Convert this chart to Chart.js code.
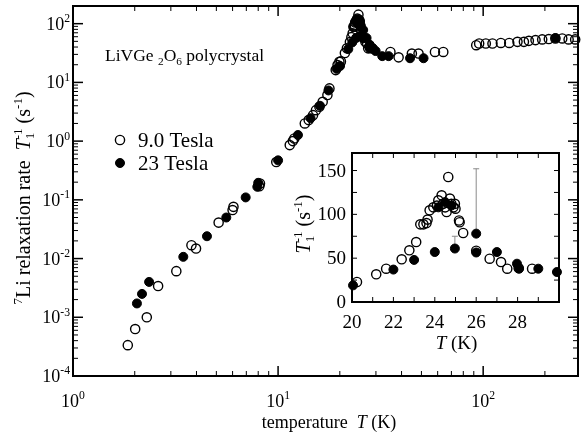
<!DOCTYPE html>
<html>
<head>
<meta charset="utf-8">
<script src="https://cdn.jsdelivr.net/npm/chart.js@4/dist/chart.umd.min.js"></script>
<style>
  html, body { margin: 0; padding: 0; background: #fff; }
  #wrap { position: relative; width: 584px; height: 441px; overflow: hidden; }
  #main { position: absolute; left: 0; top: 0; }
  #inset { position: absolute; left: 280px; top: 140px; }
</style>
</head>
<body>
<div id="wrap">
  <canvas id="main" width="584" height="441"></canvas>
  <canvas id="inset" width="300" height="220"></canvas>
</div>
<script>
// 7Li spin-lattice relaxation rate 1/T1 (s^-1) versus temperature (K)

// 9.0 Tesla (open symbols)
const t9 = [1.85, 2.01, 2.29, 2.60, 3.19, 3.78, 3.98, 5.13, 6.0, 6.06, 8.1, 8.16, 9.8,
  11.4, 11.8, 12.0, 13.5, 14.1, 14.8, 15.3, 15.9, 16.5, 17.4, 17.8, 19.1, 19.5, 19.9,
  20.24, 21.17, 21.65, 22.4, 22.77, 23.1, 23.3, 23.45, 23.6, 23.65, 23.75, 23.93, 24.1,
  24.17, 24.33, 24.4, 24.5, 24.57, 24.65, 24.73, 24.8, 24.9, 24.97, 25.0, 25.17, 25.2,
  25.37, 26.0, 26.65, 27.2, 27.5, 28.05, 28.7,
  35.3, 38.7, 44.9, 48.4, 58.2, 63.9,
  92.5, 95.6, 103, 111, 122, 134, 147, 158, 167, 180, 194, 209, 225, 243, 261, 281];
const r9 = [3.35e-4, 6.3e-4, 1.0e-3, 3.4e-3, 6.1e-3, 0.0169, 0.0148, 0.041, 0.067, 0.076, 0.17, 0.19, 0.44,
  0.855, 1.0, 1.11, 2.0, 2.28, 2.77, 3.37, 3.84, 4.67, 6.1, 7.9, 16.2, 19.7, 22.4,
  22.8, 31.6, 38, 48.7, 59, 68.4, 88.6, 88.6, 90, 94, 104.6, 108, 110,
  116, 121.7, 112, 108, 102.7, 142.6, 118, 112, 108, 112, 106.5, 93, 91,
  78.7, 58.5, 49.4, 45.6, 38, 38.8, 38,
  33, 26.7, 31, 31, 33, 33,
  43, 46, 46, 46, 47, 47, 49, 49, 51, 52.5, 54, 54.7, 56, 56, 54, 54];

// 23 Tesla (filled symbols)
const t23 = [2.05, 2.17, 2.35, 3.45, 4.5, 5.59, 6.95, 7.92, 8.0, 10.0, 12.5, 14.4, 16.0,
  17.6, 19.3, 20.05, 22.0, 23.0, 24.0, 24.17, 24.5, 24.8, 24.97, 26.0, 26.0, 27.0,
  27.97, 28.07, 29.0, 29.9, 32.2, 34.6, 44.0, 51.2, 225];
const r23 = [1.72e-3, 2.5e-3, 4.0e-3, 0.0107, 0.024, 0.050, 0.11, 0.167, 0.195, 0.47, 1.27, 2.46, 4.0,
  7.3, 17, 19, 37, 48, 57, 108, 114, 110, 61, 78, 56.5, 57,
  43.7, 38, 38, 34.2, 28, 28, 25.8, 25.8, 57];

// upper error bars on two 23 T points
const errT = [24.97, 26.0];
const errLo = [61, 78];
const errHi = [75, 152];

// axis ticks
const mainXExp = [0, 1, 2];
const mainYExp = [-4, -3, -2, -1, 0, 1, 2];
const insetXLabels = [20, 22, 24, 26, 28];
const insetYLabels = [0, 50, 100, 150];

const SERIF = '"Liberation Serif", "Times New Roman", Times, serif';
const INK = '#000';

function fnt(px, italic) { return (italic ? 'italic ' : '') + px + 'px ' + SERIF; }

// rich text: segments {t, k:'sup'|'sub'|'it'} or {stack:[sub, sup]}
function segW(ctx, s, size) {
  if (s.stack) {
    ctx.font = fnt(size * 0.65);
    return Math.max(ctx.measureText(s.stack[0]).width, ctx.measureText(s.stack[1]).width);
  }
  const small = s.k === 'sup' || s.k === 'sub';
  ctx.font = fnt(small ? size * 0.65 : size, s.k === 'it');
  return ctx.measureText(s.t).width;
}
function richW(ctx, segs, size) { return segs.reduce((a, s) => a + segW(ctx, s, size), 0); }
function drawRich(ctx, segs, x, y, size, align) {
  const w = richW(ctx, segs, size);
  let cx = align === 'center' ? x - w / 2 : align === 'right' ? x - w : x;
  ctx.textAlign = 'left';
  ctx.textBaseline = 'alphabetic';
  ctx.fillStyle = INK;
  for (const s of segs) {
    const sw = segW(ctx, s, size);
    if (s.stack) {
      ctx.font = fnt(size * 0.65);
      ctx.fillText(s.stack[1], cx, y - size * 0.42);
      ctx.fillText(s.stack[0], cx, y + size * 0.22);
    } else {
      const small = s.k === 'sup' || s.k === 'sub';
      ctx.font = fnt(small ? size * 0.65 : size, s.k === 'it');
      const dy = s.k === 'sup' ? -size * 0.42 : s.k === 'sub' ? size * 0.22 : 0;
      ctx.fillText(s.t, cx, y + dy);
    }
    cx += sw;
  }
}
function pow10(e) { return [{ t: '10' }, { t: String(e), k: 'sup' }]; }

function logTicks(min, max) {
  const out = [];
  for (let e = Math.floor(Math.log10(min)); e <= Math.ceil(Math.log10(max)); e++) {
    for (let m = 1; m < 10; m++) {
      const v = m * Math.pow(10, e);
      if (v >= min * 0.999 && v <= max * 1.001) out.push({ v, major: m === 1 });
    }
  }
  return out;
}

function tickLine(ctx, x1, y1, x2, y2, w) {
  ctx.lineWidth = w;
  ctx.beginPath(); ctx.moveTo(x1, y1); ctx.lineTo(x2, y2); ctx.stroke();
}

function pts(ts, rs, lo, hi) {
  return ts.map((t, i) => ({ x: t, y: rs[i] }))
    .filter(p => lo === undefined || (p.x >= lo && p.x <= hi));
}

const openStyle = {
  showLine: false, pointStyle: 'circle', pointRadius: 4.6, pointBorderWidth: 1.4,
  pointBorderColor: INK, pointBackgroundColor: 'rgba(255,255,255,0)', clip: false
};
const fillStyle = {
  showLine: false, pointStyle: 'circle', pointRadius: 4.5, pointBorderWidth: 1,
  pointBorderColor: INK, pointBackgroundColor: INK, clip: false
};

// frame + inward ticks on all four sides
function frameAndTicks(ctx, area, xs, ys, xt, yt) {
  ctx.save();
  ctx.strokeStyle = INK;
  for (const t of xt) {
    const x = xs.getPixelForValue(t.v);
    const L = t.major ? 10 : 5, w = t.major ? 1.5 : 1;
    tickLine(ctx, x, area.bottom, x, area.bottom - L, w);
    tickLine(ctx, x, area.top, x, area.top + L, w);
  }
  for (const t of yt) {
    const y = ys.getPixelForValue(t.v);
    const L = t.major ? 10 : 5, w = t.major ? 1.5 : 1;
    tickLine(ctx, area.left, y, area.left + L, y, w);
    tickLine(ctx, area.right, y, area.right - L, y, w);
  }
  ctx.lineWidth = 2;
  ctx.strokeRect(area.left, area.top, area.right - area.left, area.bottom - area.top);
  ctx.restore();
}

const mainDeco = {
  id: 'mainDeco',
  beforeDatasetsDraw(chart) {
    const { ctx, chartArea: a, scales: { x, y } } = chart;
    frameAndTicks(ctx, a, x, y, logTicks(x.min, x.max), logTicks(y.min, y.max));
  },
  afterDraw(chart) {
    const { ctx, chartArea: a, scales: { x, y } } = chart;
    ctx.save();
    // tick labels
    for (const e of mainYExp) {
      drawRich(ctx, pow10(e), a.left - 3, y.getPixelForValue(Math.pow(10, e)) + 6, 18, 'right');
    }
    for (const e of mainXExp) {
      drawRich(ctx, pow10(e), x.getPixelForValue(Math.pow(10, e)), 407, 18, 'center');
    }
    // axis titles
    drawRich(ctx, [{ t: 'temperature  ' }, { t: 'T', k: 'it' }, { t: ' (K)' }], 329, 428, 18, 'center');
    ctx.save();
    ctx.translate(30, 198);
    ctx.rotate(-Math.PI / 2);
    drawRich(ctx, [{ t: '7', k: 'sup' }, { t: 'Li relaxation rate  ' }, { t: 'T', k: 'it' },
      { stack: ['1', '-1'] }, { t: ' (s' }, { t: '-1', k: 'sup' }, { t: ')' }], 0, 0, 20, 'center');
    ctx.restore();
    // sample label
    drawRich(ctx, [{ t: 'LiVGe ' }, { t: '2', k: 'sub' }, { t: 'O' }, { t: '6', k: 'sub' }, { t: ' polycrystal' }],
      105, 61, 17.5, 'left');
    // legend
    const ds = chart.data.datasets;
    const rows = [[ds[0], '9.0 Tesla', 140], [ds[1], '23 Tesla', 163]];
    for (const [d, label, cy] of rows) {
      ctx.beginPath();
      ctx.arc(120, cy, d.pointRadius, 0, Math.PI * 2);
      ctx.fillStyle = d.pointBackgroundColor; ctx.fill();
      ctx.lineWidth = d.pointBorderWidth; ctx.strokeStyle = d.pointBorderColor; ctx.stroke();
      drawRich(ctx, [{ t: label }], 138, cy + 7, 21, 'left');
    }
    ctx.restore();
  }
};

const insetDeco = {
  id: 'insetDeco',
  beforeDatasetsDraw(chart) {
    const { ctx, chartArea: a, scales: { x, y } } = chart;
    const xt = [], yt = [];
    for (let v = 20; v <= 30; v++) xt.push({ v, major: v % 2 === 0 });
    for (let v = 0; v <= 170; v += 25) yt.push({ v, major: v % 50 === 0 });
    ctx.save();
    ctx.strokeStyle = INK;
    for (const t of xt) {
      const px = x.getPixelForValue(t.v);
      tickLine(ctx, px, a.bottom, px, a.bottom - 5, 1);
      tickLine(ctx, px, a.top, px, a.top + 5, 1);
    }
    for (const t of yt) {
      const py = y.getPixelForValue(t.v);
      tickLine(ctx, a.left, py, a.left + 5, py, 1);
      tickLine(ctx, a.right, py, a.right - 5, py, 1);
    }
    ctx.lineWidth = 2;
    ctx.strokeRect(a.left, a.top, a.right - a.left, a.bottom - a.top);
    // error bars
    ctx.strokeStyle = '#8a8a8a';
    ctx.lineWidth = 1;
    errT.forEach((t, i) => {
      const px = x.getPixelForValue(t);
      const y0 = y.getPixelForValue(errLo[i]), y1 = y.getPixelForValue(errHi[i]);
      ctx.beginPath();
      ctx.moveTo(px, y0); ctx.lineTo(px, y1);
      ctx.moveTo(px - 3, y1); ctx.lineTo(px + 3, y1);
      ctx.stroke();
    });
    ctx.restore();
  },
  afterDraw(chart) {
    const { ctx, chartArea: a, scales: { x, y } } = chart;
    ctx.save();
    for (const v of insetYLabels) drawRich(ctx, [{ t: String(v) }], a.left - 6, y.getPixelForValue(v) + 6, 19, 'right');
    for (const v of insetXLabels) drawRich(ctx, [{ t: String(v) }], x.getPixelForValue(v), a.bottom + 26, 19, 'center');
    drawRich(ctx, [{ t: 'T', k: 'it' }, { t: ' (K)' }], (a.left + a.right) / 2 + 1, a.bottom + 47, 19, 'center');
    ctx.translate(30, 84);
    ctx.rotate(-Math.PI / 2);
    drawRich(ctx, [{ t: 'T', k: 'it' }, { stack: ['1', '-1'] }, { t: ' (s' }, { t: '-1', k: 'sup' }, { t: ')' }], 0, 0, 20, 'center');
    ctx.restore();
  }
};

const baseOpts = {
  responsive: false,
  animation: false,
  devicePixelRatio: 1,
  events: [],
  plugins: { legend: { display: false }, tooltip: { enabled: false } }
};

new Chart(document.getElementById('main'), {
  type: 'scatter',
  data: {
    datasets: [
      Object.assign({ label: '9.0 Tesla', data: pts(t9, r9) }, openStyle),
      Object.assign({ label: '23 Tesla', data: pts(t23, r23) }, fillStyle)
    ]
  },
  options: Object.assign({}, baseOpts, {
    layout: { padding: { left: 73, right: 1, top: 5, bottom: 65 } },
    scales: {
      x: { type: 'logarithmic', min: 1, max: 290, display: false },
      y: { type: 'logarithmic', min: 1e-4, max: 200, display: false }
    }
  }),
  plugins: [mainDeco]
});

new Chart(document.getElementById('inset'), {
  type: 'scatter',
  data: {
    datasets: [
      Object.assign({ label: '9.0 Tesla', data: pts(t9, r9, 20, 30) }, openStyle),
      Object.assign({ label: '23 Tesla', data: pts(t23, r23, 20, 30) }, fillStyle)
    ]
  },
  options: Object.assign({}, baseOpts, {
    layout: { padding: { left: 72, right: 21, top: 13, bottom: 58 } },
    scales: {
      x: { type: 'linear', min: 20, max: 30, display: false },
      y: { type: 'linear', min: 0, max: 170, display: false }
    }
  }),
  plugins: [insetDeco]
});
</script>
</body>
</html>
